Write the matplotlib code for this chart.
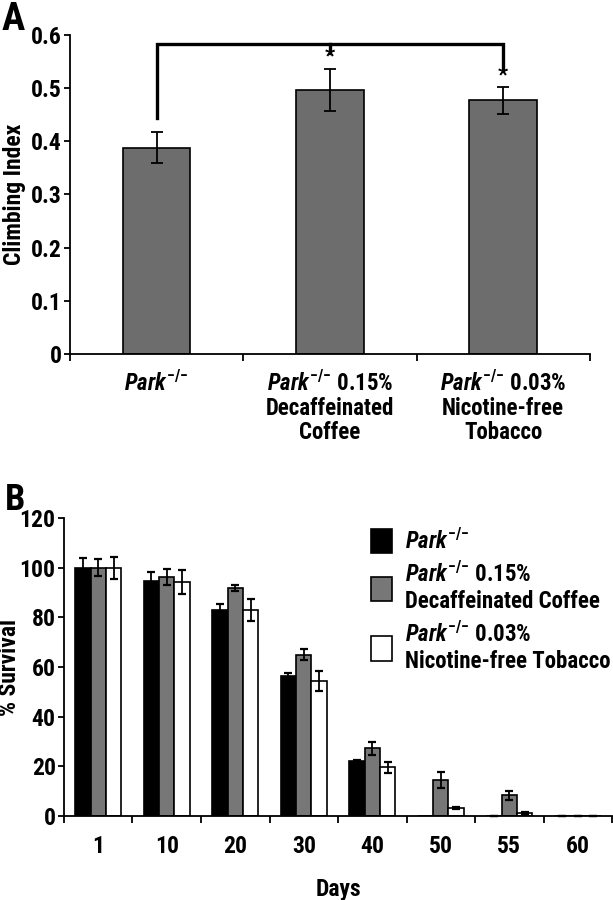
import numpy as np
import matplotlib
matplotlib.use("Agg")
from matplotlib import pyplot as plt
from matplotlib import font_manager

# pick a narrow sans if we have one
names = set(f.name for f in font_manager.fontManager.ttflist)
fam = "Liberation Sans"
for cand in ["Liberation Sans Narrow", "Roboto Condensed", "Open Sans Condensed", "Liberation Sans"]:
    if cand in names:
        fam = cand
        break

plt.rcParams["font.family"] = [fam, "DejaVu Sans"]
plt.rcParams["font.weight"] = "bold"
plt.rcParams["mathtext.fontset"] = "custom"
plt.rcParams["mathtext.it"] = fam + ":italic:bold"
plt.rcParams["mathtext.rm"] = fam + ":bold"
plt.rcParams["mathtext.bf"] = fam + ":bold"

park = r"$\mathit{Park}^{{-}/{-}}$"

# panel A: climbing
groups_a = [park, park + " 0.15%\nDecaffeinated\nCoffee", park + " 0.03%\nNicotine-free\nTobacco"]
climb = [0.388, 0.497, 0.477]
climb_err = [0.029, 0.040, 0.025]

# panel B: survival
days = ["1", "10", "20", "30", "40", "50", "55", "60"]
surv_park = [100, 94.5, 83, 56.3, 22.1, 0, 0, 0]
surv_park_err = [3.8, 3.6, 2.5, 1.2, 0.4, np.nan, 0, 0]
surv_coffee = [100, 96.2, 91.9, 65, 27.2, 14.6, 8.3, 0]
surv_coffee_err = [3.5, 3.1, 1.1, 2.3, 2.6, 3.2, 1.7, 0]
surv_tob = [100, 94.3, 83, 54.4, 19.6, 3.2, 1.3, 0]
surv_tob_err = [4.5, 4.7, 4.3, 4.2, 2.1, 0.5, 0.3, 0]
legend_labels = [park, park + " 0.15%\nDecaffeinated Coffee", park + " 0.03%\nNicotine-free Tobacco"]

fig = plt.figure(figsize=(6.13, 9.0), dpi=100)

# ---- A ----
ax = fig.add_axes([0.1142, 0.6067, 0.848, 0.3544])
xa = np.arange(len(climb))
ax.bar(xa, climb, width=0.39, color="#6d6d6d", edgecolor="black", linewidth=1.2, zorder=2)
ax.errorbar(xa, climb, yerr=climb_err, fmt="none", ecolor="black", elinewidth=1.3,
            capsize=4, capthick=1.3, zorder=3)
ax.set_xlim(-0.5, 2.5)
ax.set_ylim(0, 0.6)
ax.set_yticks(np.arange(0, 0.61, 0.1))
ax.set_yticklabels(["0", "0.1", "0.2", "0.3", "0.4", "0.5", "0.6"])
ax.set_xticks(np.arange(-0.5, 2.6, 1.0))
ax.set_xticklabels([])
ax.set_xticks(xa, minor=True)
ax.set_xticklabels(groups_a, minor=True, fontsize=16.5, linespacing=1.05, va="top")
ax.tick_params(axis="x", which="minor", length=0, pad=12)
ax.tick_params(axis="x", which="major", length=5, width=1.3, direction="out")
ax.tick_params(axis="y", length=4, width=1.3, labelsize=17, pad=2)
ax.set_ylabel("Climbing Index", fontsize=17, fontweight="bold")
ax.yaxis.set_label_coords(-0.085, 0.5)
for s in ["top", "right"]:
    ax.spines[s].set_visible(False)
for s in ["left", "bottom"]:
    ax.spines[s].set_linewidth(1.3)

# significance bracket
ax.plot([0, 0, 2, 2], [0.443, 0.583, 0.583, 0.532], color="black", lw=2.4,
        solid_joinstyle="miter", clip_on=False, zorder=4)
ax.plot([1, 1], [0.583, 0.566], color="black", lw=2.4, zorder=4)
for i in [1, 2]:
    ax.text(xa[i], climb[i] + climb_err[i] + 0.002, "*", ha="center", va="bottom", fontsize=16)

fig.text(0.003, 0.999, "A", fontsize=28, fontweight="bold", ha="left", va="top")

# ---- B ----
bx = fig.add_axes([0.1044, 0.0933, 0.894, 0.3311])
xb = np.arange(len(days))
w = 0.225
series = [(surv_park, surv_park_err, "black"),
          (surv_coffee, surv_coffee_err, "#777777"),
          (surv_tob, surv_tob_err, "white")]
handles = []
for k, (vals, errs, col) in enumerate(series):
    pos = xb + (k - 1) * w
    h = bx.bar(pos, vals, width=w, color=col, edgecolor="black", linewidth=1.2, zorder=2)
    handles.append(h)
    bx.errorbar(pos, vals, yerr=errs, fmt="none", ecolor="black", elinewidth=1.3,
                capsize=3, capthick=1.6, zorder=3, clip_on=False)
bx.set_xlim(-0.5, 7.5)
bx.set_ylim(0, 120)
bx.set_yticks(np.arange(0, 121, 20))
bx.set_xticks(np.arange(-0.5, 7.6, 1.0))
bx.set_xticklabels([])
bx.set_xticks(xb, minor=True)
bx.set_xticklabels(days, minor=True, fontsize=17)
bx.tick_params(axis="x", which="minor", length=0, pad=14)
bx.tick_params(axis="x", which="major", length=5, width=1.3, direction="out")
bx.tick_params(axis="y", length=4, width=1.3, labelsize=17, pad=2)
bx.set_ylabel("% Survival", fontsize=17, fontweight="bold")
bx.yaxis.set_label_coords(-0.078, 0.5)
bx.set_xlabel("Days", fontsize=17, fontweight="bold", labelpad=14)
for s in ["top", "right"]:
    bx.spines[s].set_visible(False)
for s in ["left", "bottom"]:
    bx.spines[s].set_linewidth(1.3)

fig.legend(handles, legend_labels, loc="upper left", bbox_to_anchor=(0.606, 0.413),
           frameon=False, fontsize=16.5, handlelength=0.9, handleheight=1.25,
           handletextpad=0.55, labelspacing=0.35, borderpad=0, borderaxespad=0)

fig.text(0.008, 0.465, "B", fontsize=26, fontweight="bold", ha="left", va="top")

fig.savefig("out.png", dpi=100)
